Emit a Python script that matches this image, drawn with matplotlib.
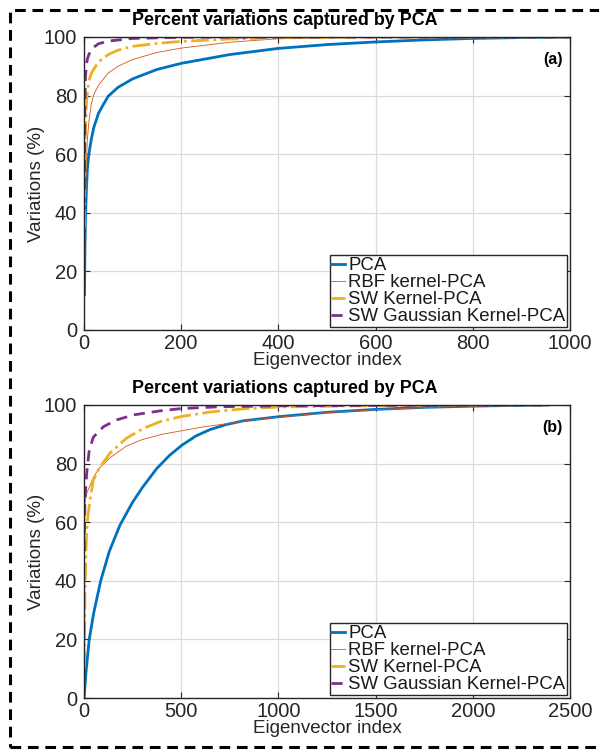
import matplotlib
matplotlib.use("Agg")
import matplotlib.pyplot as plt
from matplotlib.patches import Rectangle
from matplotlib.transforms import offset_copy

plt.rcParams['font.family'] = ['Liberation Sans', 'DejaVu Sans']

# ---------------- data ----------------
title = "Percent variations captured by PCA"
labels = ["PCA", "RBF kernel-PCA", "SW Kernel-PCA", "SW Gaussian Kernel-PCA"]

# Panel (a)
a_pca_x = [1, 2, 3, 5, 7, 10, 15, 20, 30, 40, 50, 70, 100, 150, 200, 300, 400, 500, 600, 700, 800, 900, 1000]
a_pca_y = [12, 28, 38, 48, 55, 60, 65, 69, 74, 77, 79.8, 82.8, 85.7, 88.9, 91, 94, 96.1, 97.4, 98.3, 99, 99.5, 99.8, 100]
a_rbf_x = [1, 2, 3, 5, 7, 10, 15, 20, 30, 50, 70, 100, 150, 200, 300, 400, 500, 700, 1000]
a_rbf_y = [27, 40, 48, 58, 65, 71, 77, 80.3, 83.6, 87.7, 90, 92.3, 94.7, 96.2, 98.2, 99.4, 99.8, 100, 100]
a_sw_x = [1, 2, 3, 5, 7, 10, 15, 20, 30, 50, 70, 100, 150, 200, 300, 400, 600, 1000]
a_sw_y = [35, 55, 68, 77, 81.5, 85, 87.5, 89, 91.5, 94, 95.5, 96.8, 97.8, 98.5, 99.3, 99.7, 100, 100]
a_swg_x = [1, 2, 3, 5, 7, 10, 15, 20, 30, 50, 100, 200, 400, 1000]
a_swg_y = [48, 78, 86, 90.5, 92.5, 94, 95.5, 96.5, 97.7, 98.6, 99.5, 99.9, 100, 100]

# Panel (b)
b_pca_x = [1, 10, 27, 50, 86, 130, 185, 250, 300, 374, 440, 502, 575, 648, 730, 820, 1000, 1250, 1500, 1750, 2000, 2200, 2387]
b_pca_y = [0.5, 8.5, 20, 29, 40, 50, 59, 66.8, 71.8, 78.3, 82.8, 86.2, 89.4, 91.6, 93.3, 94.6, 96, 97.5, 98.5, 99.2, 99.6, 99.85, 100]
b_rbf_x = [1, 5, 15, 31, 50, 79, 134, 219, 300, 400, 502, 620, 733, 850, 1000, 1250, 1500, 1750, 2000, 2200, 2387]
b_rbf_y = [45, 66.5, 70, 72.5, 75.5, 78.5, 82, 86, 88.2, 90, 91.2, 92.6, 93.6, 94.8, 95.8, 97.4, 98.4, 99.1, 99.6, 99.85, 100]
b_sw_x = [1, 5, 10, 14, 20, 31, 48, 79, 134, 219, 305, 391, 502, 648, 820, 1000, 1500, 2000, 2387]
b_sw_y = [10, 35, 50, 57, 62, 67.6, 74.4, 78.5, 83.6, 88.7, 92, 94.3, 96.1, 97.6, 98.7, 99.3, 99.8, 100, 100]
b_swg_x = [1, 5, 14, 27, 48, 100, 168, 253, 391, 502, 700, 1000, 1500, 2000, 2387]
b_swg_y = [50, 67.6, 76.8, 84.6, 89, 92.6, 94.9, 96.6, 98, 98.8, 99.4, 99.7, 99.9, 100, 100]

a_xticks = [0, 200, 400, 600, 800, 1000]
b_xticks = [0, 500, 1000, 1500, 2000, 2500]
yticks = [0, 20, 40, 60, 80, 100]

# ---------------- styles ----------------
colors = ['#0072BD', '#D95319', '#EDB120', '#7E2F8E']
styles = [dict(ls='-', lw=2.0), dict(ls='-', lw=0.6), dict(ls='-.', lw=2.0), dict(ls=(0, (4, 2.5)), lw=2.0)]
axcol = '#262626'

fig = plt.figure(figsize=(5.99, 7.5), dpi=100)

def panel(rect, series, xlim, xticks, tag):
    ax = fig.add_axes(rect)
    for (x, y), c, st, lab in zip(series, colors, styles, labels):
        ax.plot(x, y, color=c, label=lab, **st)
    ax.set_xlim(*xlim)
    ax.set_ylim(0, 100)
    ax.set_xticks(xticks)
    ax.set_yticks(yticks)
    ax.grid(True, color='#dcdcdc', lw=0.9)
    ax.set_axisbelow(True)
    for s in ax.spines.values():
        s.set_color(axcol)
        s.set_linewidth(1.0)
    ax.tick_params(direction='in', top=True, right=True, length=4, width=0.8,
                   color=axcol, labelsize=14.5, labelcolor='#262626')
    ax.tick_params(axis='x', pad=3)
    ax.tick_params(axis='y', pad=5)
    ax.set_xlabel('Eigenvector index', fontsize=13.5, color='#262626', labelpad=-1)
    ax.set_ylabel('Variations (%)', fontsize=13.5, color='#262626', labelpad=-1)
    ax.text(0.414, 1.0, title, transform=offset_copy(ax.transAxes, fig=fig, x=0, y=8, units='dots'),
            ha='center', va='bottom', fontsize=12.9, fontweight='bold')
    ax.text(0.985, 0.95, tag, transform=ax.transAxes, ha='right', va='top',
            fontsize=11.5, fontweight='bold')
    leg = ax.legend(loc='lower right', fontsize=13.4, handlelength=0.7, handletextpad=0.2,
                    labelspacing=0.0, borderpad=0.1, borderaxespad=0.15,
                    fancybox=False, framealpha=1, edgecolor=axcol)
    leg.get_frame().set_linewidth(1.0)
    for t in leg.get_texts():
        t.set_color('#1a1a1a')
    return ax

panel([0.1402, 0.56, 0.8114, 0.3907],
      [(a_pca_x, a_pca_y), (a_rbf_x, a_rbf_y), (a_sw_x, a_sw_y), (a_swg_x, a_swg_y)],
      (0, 1000), a_xticks, '(a)')
panel([0.1402, 0.0693, 0.8114, 0.3907],
      [(b_pca_x, b_pca_y), (b_rbf_x, b_rbf_y), (b_sw_x, b_sw_y), (b_swg_x, b_swg_y)],
      (0, 2500), b_xticks, '(b)')

# dashed outer border
W, H = 599, 750
fig.patches.append(Rectangle((10 / W, 3 / H), (W + 20) / W, (H - 13) / H, transform=fig.transFigure,
                             fill=False, edgecolor='black', lw=2.2, ls=(0, (3.5, 2.2)), clip_on=False))

fig.savefig('out.png', dpi=100)
